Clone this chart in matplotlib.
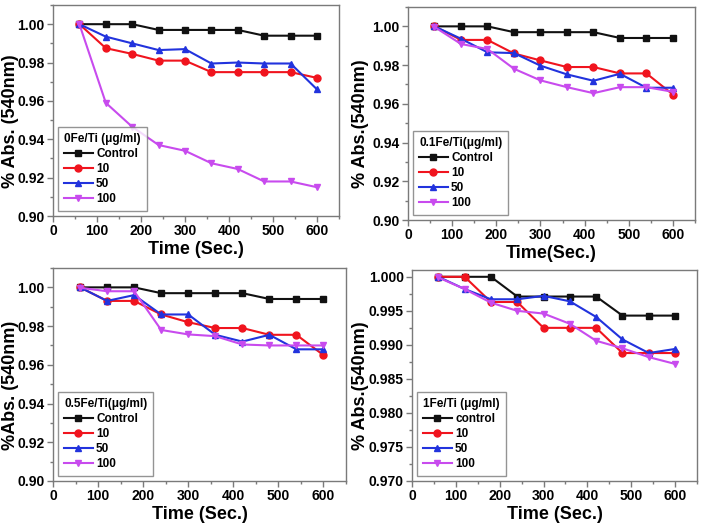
import matplotlib
matplotlib.use("Agg")
import matplotlib.pyplot as plt
from matplotlib.ticker import MultipleLocator, FormatStrFormatter

plt.rcParams['font.family'] = ['Liberation Sans', 'DejaVu Sans']
plt.rcParams['font.weight'] = 'bold'

time = [60, 120, 180, 240, 300, 360, 420, 480, 540, 600]
series_names = ["Control", "10", "50", "100"]

# Panel 1: 0Fe/Ti
p1_control = [1.000, 1.000, 1.000, 0.997, 0.997, 0.997, 0.997, 0.994, 0.994, 0.994]
p1_10 = [1.000, 0.9875, 0.9845, 0.981, 0.981, 0.975, 0.975, 0.975, 0.975, 0.972]
p1_50 = [1.000, 0.9935, 0.990, 0.9865, 0.987, 0.9795, 0.980, 0.9795, 0.9795, 0.966]
p1_100 = [1.000, 0.959, 0.9465, 0.937, 0.934, 0.9275, 0.9245, 0.918, 0.918, 0.915]

# Panel 2: 0.1Fe/Ti
p2_control = [1.000, 1.000, 1.000, 0.997, 0.997, 0.997, 0.997, 0.994, 0.994, 0.994]
p2_10 = [1.000, 0.993, 0.993, 0.986, 0.9824, 0.979, 0.979, 0.9757, 0.9757, 0.9648]
p2_50 = [1.000, 0.9936, 0.9866, 0.9862, 0.9797, 0.9752, 0.9719, 0.9755, 0.9683, 0.9683]
p2_100 = [0.9997, 0.9909, 0.9883, 0.9781, 0.9721, 0.9686, 0.9655, 0.9686, 0.9686, 0.9662]

# Panel 3: 0.5Fe/Ti
p3_control = [1.000, 1.000, 1.000, 0.997, 0.997, 0.997, 0.997, 0.994, 0.994, 0.994]
p3_10 = [1.000, 0.993, 0.993, 0.986, 0.982, 0.979, 0.979, 0.9755, 0.9755, 0.965]
p3_50 = [1.000, 0.993, 0.996, 0.986, 0.986, 0.9755, 0.972, 0.9755, 0.968, 0.968]
p3_100 = [0.9998, 0.998, 0.998, 0.978, 0.9757, 0.9748, 0.9705, 0.970, 0.970, 0.970]

# Panel 4: 1Fe/Ti
p4_control = [1.000, 1.000, 1.000, 0.9971, 0.9971, 0.9971, 0.9971, 0.9943, 0.9943, 0.9943]
p4_10 = [1.000, 1.000, 0.9963, 0.9963, 0.9925, 0.9925, 0.9925, 0.9888, 0.9888, 0.9888]
p4_50 = [1.000, 0.9982, 0.9967, 0.9967, 0.9972, 0.9964, 0.9941, 0.9908, 0.9888, 0.9894]
p4_100 = [0.9999, 0.9982, 0.9962, 0.9950, 0.9946, 0.9931, 0.9906, 0.9895, 0.9882, 0.9872]

colors = ["#111111", "#f0141e", "#2233dd", "#c84bee"]
markers = ["s", "o", "^", "v"]

panels = [
    dict(data=[p1_control, p1_10, p1_50, p1_100], names=series_names,
         title="0Fe/Ti (\u03bcg/ml)", ylabel="% Abs. (540nm)", xlabel="Time (Sec.)",
         ylim=(0.90, 1.01), ymaj=0.02, ymin=0.01, fmt="%.2f",
         rect=[53, 5, 339, 216], labx=19),
    dict(data=[p2_control, p2_10, p2_50, p2_100], names=series_names,
         title="0.1Fe/Ti(\u03bcg/ml)", ylabel="% Abs.(540nm)", xlabel="Time(Sec.)",
         ylim=(0.90, 1.01), ymaj=0.02, ymin=0.01, fmt="%.2f",
         rect=[408, 7, 695, 220], labx=369),
    dict(data=[p3_control, p3_10, p3_50, p3_100], names=series_names,
         title="0.5Fe/Ti(\u03bcg/ml)", ylabel="%Abs. (540nm)", xlabel="Time (Sec.)",
         ylim=(0.90, 1.01), ymaj=0.02, ymin=0.01, fmt="%.2f",
         rect=[53, 268, 346, 481], labx=19),
    dict(data=[p4_control, p4_10, p4_50, p4_100], names=["control", "10", "50", "100"],
         title="1Fe/Ti (\u03bcg/ml)", ylabel="% Abs.(540nm)", xlabel="Time (Sec.)",
         ylim=(0.970, 1.001), ymaj=0.005, ymin=0.0025, fmt="%.3f",
         rect=[412, 270, 697, 481], labx=369),
]

W, H = 702, 526
fig = plt.figure(figsize=(W / 100, H / 100), dpi=100)
frame_col = "#7a7a7a"

for p in panels:
    l, t, r, b = p["rect"]
    ax = fig.add_axes([l / W, 1 - b / H, (r - l) / W, (b - t) / H])
    for ys, name, c, m in zip(p["data"], p["names"], colors, markers):
        ax.plot(time, ys, color=c, marker=m, markersize=5, linewidth=1.5, label=name)
    ax.set_xlim(0, 650)
    ax.set_ylim(*p["ylim"])
    ax.xaxis.set_major_locator(MultipleLocator(100))
    ax.xaxis.set_minor_locator(MultipleLocator(50))
    ax.yaxis.set_major_locator(MultipleLocator(p["ymaj"]))
    ax.yaxis.set_minor_locator(MultipleLocator(p["ymin"]))
    ax.yaxis.set_major_formatter(FormatStrFormatter(p["fmt"]))
    ax.tick_params(which="both", direction="out", color=frame_col, width=1)
    ax.tick_params(which="major", length=4, labelsize=10, pad=2)
    ax.tick_params(which="minor", length=2.5)
    for lab in ax.get_xticklabels() + ax.get_yticklabels():
        lab.set_fontweight("bold")
    for s in ax.spines.values():
        s.set_color(frame_col)
        s.set_linewidth(1)
    ax.set_xlabel(p["xlabel"], fontsize=13, fontweight="bold", labelpad=2)
    ax.set_ylabel(p["ylabel"], fontsize=13, fontweight="bold")
    # right edge of the rotated label placed at an absolute image x position
    ax.yaxis.set_label_coords((p["labx"] - l) / (r - l), 0.45)
    leg = ax.legend(title=p["title"], loc="lower left", fontsize=8.5,
                    title_fontproperties={"weight": "bold", "size": 8.5},
                    frameon=True, fancybox=False, edgecolor=frame_col,
                    borderaxespad=0.45, labelspacing=0.25, handlelength=2.4,
                    handletextpad=0.3, borderpad=0.5)
    leg._legend_box.align = "left"
    leg.get_frame().set_linewidth(1)
    for txt in leg.get_texts():
        txt.set_fontweight("bold")

fig.savefig("out.png", dpi=100)
